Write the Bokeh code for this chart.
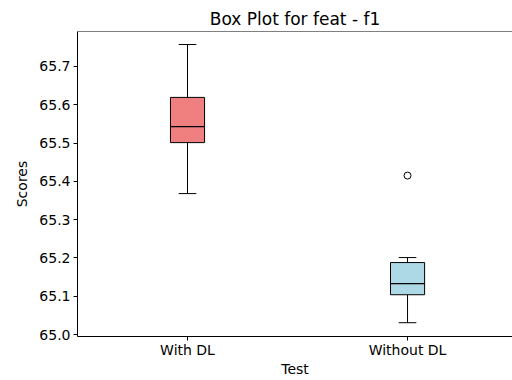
from bokeh.plotting import figure
from bokeh.models import ColumnDataSource, Range1d, FixedTicker, Span, NumeralTickFormatter
from bokeh.embed import file_html
from bokeh.resources import INLINE

categories = ["With DL", "Without DL"]
positions = [1, 2]
q1 = [65.501, 65.104]
median = [65.543, 65.133]
q3 = [65.619, 65.188]
whisker_low = [65.368, 65.031]
whisker_high = [65.757, 65.201]
fill_colors = ["#F08080", "#ADD8E6"]
outlier_pos = [2]
outlier_val = [65.415]
y_ticks = [65.0, 65.1, 65.2, 65.3, 65.4, 65.5, 65.6, 65.7]

FONT = "DejaVu Sans"
box_w = 0.155
cap_w = 0.08

p = figure(width=512, height=380, output_backend="svg", toolbar_location=None,
           x_range=Range1d(0.5, 2.477), y_range=Range1d(64.995, 65.791),
           title="Box Plot for feat - f1")
p.min_border_left = 77
p.min_border_right = 0
p.min_border_top = 31
p.min_border_bottom = 44
p.outline_line_color = None
p.xgrid.visible = False
p.ygrid.visible = False
p.background_fill_color = "white"

p.title.text_font = FONT
p.title.text_font_size = "17px"
p.title.text_font_style = "normal"
p.title.align = "center"
p.title.text_color = "black"
p.title.standoff = 5
p.title.offset = 2

src = ColumnDataSource(dict(x=positions, q1=q1, med=median, q3=q3,
                            lo=whisker_low, hi=whisker_high, color=fill_colors))
src.data["cl"] = [x - cap_w / 2 for x in positions]
src.data["cr"] = [x + cap_w / 2 for x in positions]
src.data["bl"] = [x - box_w / 2 for x in positions]
src.data["br"] = [x + box_w / 2 for x in positions]
# whiskers
p.segment(x0="x", y0="q3", x1="x", y1="hi", source=src, line_color="black", line_width=1)
p.segment(x0="x", y0="lo", x1="x", y1="q1", source=src, line_color="black", line_width=1)
# caps
p.segment(x0="cl", y0="hi", x1="cr", y1="hi", source=src, line_color="black", line_width=1)
p.segment(x0="cl", y0="lo", x1="cr", y1="lo", source=src, line_color="black", line_width=1)
# boxes
p.quad(left="bl", right="br", bottom="q1", top="q3", source=src,
       fill_color="color", line_color="black", line_width=1)
# median
p.segment(x0="bl", y0="med", x1="br", y1="med", source=src, line_color="black", line_width=1.2)
# outliers
p.scatter(x=outlier_pos, y=outlier_val, size=7, fill_color=None, line_color="black", line_width=1)

# top spine
p.add_layout(Span(location=65.791, dimension="width", line_color="black", line_width=1))

for ax in (p.xaxis[0], p.yaxis[0]):
    ax.axis_line_color = "black"
    ax.major_tick_line_color = "black"
    ax.major_tick_out = 4
    ax.major_tick_in = 0
    ax.minor_tick_line_color = None
    ax.major_label_text_font = FONT
    ax.major_label_text_font_size = "14px"
    ax.major_label_text_color = "black"
    ax.major_label_standoff = 3
    ax.axis_label_text_font = FONT
    ax.axis_label_text_font_size = "14px"
    ax.axis_label_text_font_style = "normal"
    ax.axis_label_text_color = "black"

p.xaxis.ticker = FixedTicker(ticks=positions)
p.xaxis.major_label_overrides = {pos: c for pos, c in zip(positions, categories)}
p.xaxis.major_label_standoff = 1
p.xaxis.axis_label = "Test"
p.xaxis.axis_label_standoff = 0
p.yaxis.ticker = FixedTicker(ticks=y_ticks)
p.yaxis.formatter = NumeralTickFormatter(format="0.0")
p.yaxis.axis_label = "Scores"
p.yaxis.axis_label_standoff = 6

open("out.html", "w").write(file_html(p, INLINE))
